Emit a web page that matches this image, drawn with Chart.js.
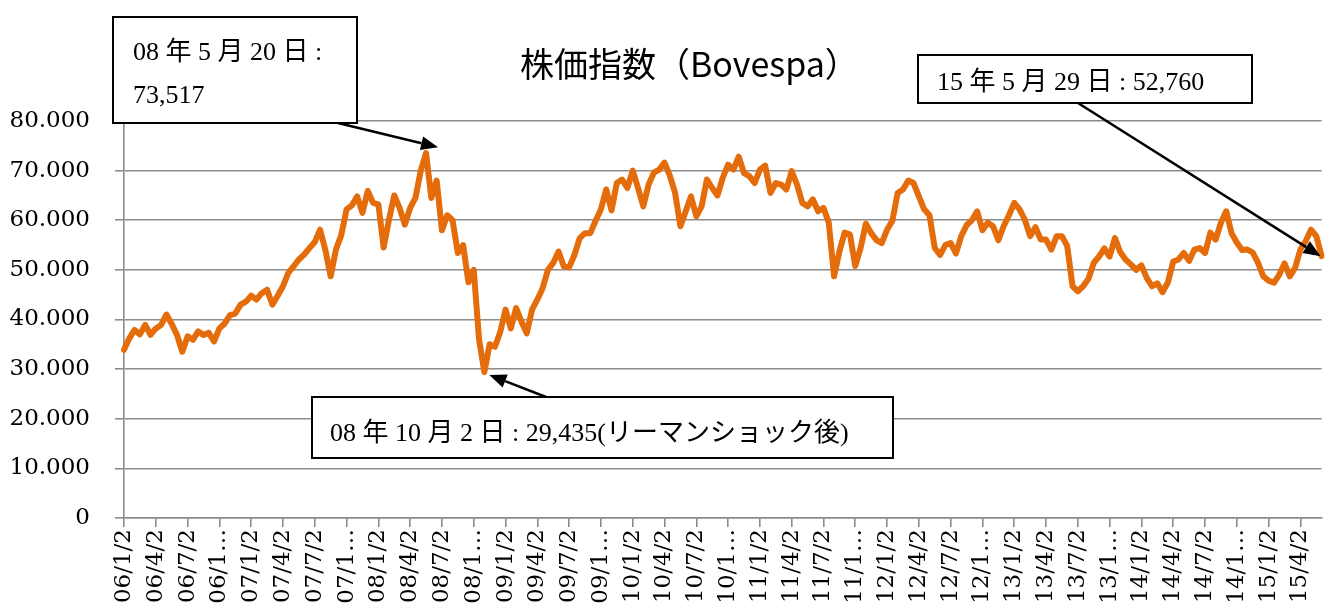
<!DOCTYPE html>
<html>
<head>
<meta charset="utf-8">
<title>株価指数（Bovespa）</title>
<script src="https://cdn.jsdelivr.net/npm/chart.js@4/dist/chart.umd.min.js"></script>
<style>
html, body { margin: 0; padding: 0; background: #fff; }
#wrap { width: 1330px; height: 613px; }
</style>
</head>
<body>
<div id="wrap"><canvas id="chart" width="1330" height="613"></canvas></div>
<script>
var chartTitle = '株価指数（Bovespa）';

// semi-monthly readings (2nd and 16th of each month), last point 15/5/29
var idx2006 = [33900, 36200, 37900, 37000, 38900, 36900, 38200, 38900, 41000, 39100, 36900, 33500,
	36600, 35900, 37600, 36900, 37300, 35600, 38200, 39200, 40900, 41200, 43000, 43600];
var idx2007 = [44800, 44000, 45300, 46000, 43000, 44800, 46700, 49400, 50700, 52100, 53100, 54400,
	55600, 58100, 54000, 48700, 54100, 57000, 62200, 63000, 64800, 61500, 65900, 63500];
var idx2008 = [63200, 54500, 60100, 65000, 62500, 59100, 62500, 64500, 70000, 73517, 64500, 68000,
	58000, 61000, 60000, 53400, 55000, 47500, 50000, 36000, 29435, 35000, 34500, 37500];
var idx2009 = [42000, 38200, 42300, 39600, 37200, 42000, 44000, 46300, 50000, 51400, 53700, 50700,
	50500, 53000, 56400, 57400, 57400, 59900, 62200, 66200, 62000, 67500, 68200, 66500];
var idx2010 = [70000, 66500, 62800, 67200, 69600, 70200, 71600, 69000, 65500, 58800, 61800, 64800,
	60800, 62800, 68200, 66500, 65000, 68600, 71200, 70200, 72800, 69500, 68900, 67500];
var idx2011 = [70200, 71000, 65500, 67500, 67200, 66200, 69900, 67200, 63500, 62800, 64200, 61800,
	62500, 59500, 48700, 53700, 57500, 57100, 50800, 54400, 59300, 57400, 56000, 55400];
var idx2012 = [58100, 59900, 65500, 66200, 68000, 67500, 64800, 62200, 61000, 54400, 53000, 55000,
	55400, 53300, 56800, 59000, 60000, 61800, 58000, 59500, 58800, 56000, 58800, 61000];
var idx2013 = [63500, 62200, 60100, 56800, 58600, 56100, 56100, 54100, 56800, 56800, 54800, 46700,
	45700, 46700, 48200, 51400, 52700, 54300, 52700, 56400, 53600, 52100, 51100, 50000];
var idx2014 = [50900, 48400, 46700, 47300, 45500, 47500, 51700, 52100, 53400, 51800, 54100, 54400,
	53400, 57500, 56100, 59500, 61800, 57400, 55500, 54000, 54100, 53500, 51400, 48700];
var idx2015 = [47800, 47400, 49000, 51300, 48700, 50400, 54100, 55800, 58100, 56800, 52760];

var tickLabels = [
	'06/1/2', '06/4/2', '06/7/2', '06/1…', '07/1/2', '07/4/2', '07/7/2', '07/1…',
	'08/1/2', '08/4/2', '08/7/2', '08/1…', '09/1/2', '09/4/2', '09/7/2', '09/1…',
	'10/1/2', '10/4/2', '10/7/2', '10/1…', '11/1/2', '11/4/2', '11/7/2', '11/1…',
	'12/1/2', '12/4/2', '12/7/2', '12/1…', '13/1/2', '13/4/2', '13/7/2', '13/1…',
	'14/1/2', '14/4/2', '14/7/2', '14/1…', '15/1/2', '15/4/2'
];

var bovespa = [].concat(idx2006, idx2007, idx2008, idx2009, idx2010,
	idx2011, idx2012, idx2013, idx2014, idx2015);

var dates = [];
var y, m;
for(y = 6; y <= 15; y++) {
	for(m = 1; m <= 12; m++) {
		if(y === 15 && m > 5) break;
		var yy = (y < 10 ? '0' : '') + y;
		dates.push(yy + '/' + m + '/2');
		dates.push(yy + '/' + m + '/16');
	}
}
dates[dates.length - 1] = '15/5/15';
dates.push('15/5/29');

var peakIdx = 57, lowIdx = 68, lastIdx = bovespa.length - 1;

var ORANGE = '#E46C0A';
var GRID = '#8c8c8c';
var SERIF = '"DejaVu Serif", serif';
var NOTE_FONT = '26px "Liberation Serif", "Noto Sans CJK JP", serif';

function drawArrow(ctx, x1, y1, x2, y2) {
	var a = Math.atan2(y2 - y1, x2 - x1), len = 17, w = 7;
	var bx = x2 - len * Math.cos(a), by = y2 - len * Math.sin(a);
	ctx.strokeStyle = '#000';
	ctx.fillStyle = '#000';
	ctx.lineWidth = 2.5;
	ctx.beginPath();
	ctx.moveTo(x1, y1);
	ctx.lineTo(bx, by);
	ctx.stroke();
	ctx.beginPath();
	ctx.moveTo(x2, y2);
	ctx.lineTo(bx + w * Math.sin(a), by - w * Math.cos(a));
	ctx.lineTo(bx - w * Math.sin(a), by + w * Math.cos(a));
	ctx.closePath();
	ctx.fill();
}

function drawBox(ctx, x, y, w, h, lines, tx, baselines) {
	ctx.fillStyle = '#fff';
	ctx.fillRect(x, y, w, h);
	ctx.strokeStyle = '#000';
	ctx.lineWidth = 2;
	ctx.strokeRect(x, y, w, h);
	ctx.fillStyle = '#000';
	ctx.font = NOTE_FONT;
	ctx.textAlign = 'left';
	ctx.textBaseline = 'alphabetic';
	for(var i = 0; i < lines.length; i++) {
		ctx.fillText(lines[i], tx, baselines[i]);
	}
}

var notes = {
	id: 'notes',
	afterDraw: function(chart) {
		var ctx = chart.ctx, xs = chart.scales.x, ys = chart.scales.y;
		ctx.save();

		ctx.fillStyle = '#000';
		ctx.font = '34px "Noto Sans CJK JP", sans-serif';
		ctx.textAlign = 'left';
		ctx.textBaseline = 'alphabetic';
		ctx.fillText(chartTitle, 520, 77);

		var px = xs.getPixelForValue(peakIdx), py = ys.getPixelForValue(bovespa[peakIdx]);
		drawArrow(ctx, 338, 123, px + 12, py - 6);
		drawBox(ctx, 113, 17, 244, 106, ['08 年 5 月 20 日 :', '73,517'], 133, [60, 103]);

		var lx = xs.getPixelForValue(lowIdx), ly = ys.getPixelForValue(bovespa[lowIdx]);
		drawArrow(ctx, 546, 397, lx + 5, ly + 3);
		drawBox(ctx, 312, 397, 581, 61, ['08 年 10 月 2 日 : 29,435(リーマンショック後)'], 330, [441]);

		var ex = xs.getPixelForValue(lastIdx), ey = ys.getPixelForValue(bovespa[lastIdx]);
		drawArrow(ctx, 1078, 103, ex - 1, ey);
		drawBox(ctx, 918, 55, 334, 48, ['15 年 5 月 29 日 : 52,760'], 937, [90]);

		ctx.restore();
	}
};

var canvas = document.getElementById('chart');
canvas._chart = new Chart(canvas, {
	type: 'line',
	data: {
		labels: dates,
		datasets: [{
			label: 'Bovespa',
			data: bovespa,
			borderColor: ORANGE,
			backgroundColor: ORANGE,
			borderWidth: 6,
			pointRadius: 0,
			tension: 0,
			fill: false,
			borderJoinStyle: 'round',
			borderCapStyle: 'round'
		}]
	},
	options: {
		responsive: false,
		animation: false,
		devicePixelRatio: 1,
		layout: { padding: { top: 121, right: 0, bottom: 0, left: 0 } },
		plugins: {
			legend: { display: false },
			tooltip: { enabled: false },
			title: { display: false }
		},
		scales: {
			x: {
				type: 'category',
				offset: false,
				grid: { display: true, drawOnChartArea: false, drawTicks: true, tickLength: 9, color: GRID, lineWidth: 1.6 },
				border: { display: true, color: GRID, width: 1.6 },
				ticks: {
					autoSkip: false,
					maxRotation: 90,
					minRotation: 90,
					padding: 2,
					color: '#000',
					font: { family: SERIF, size: 23 },
					callback: function(value) { return tickLabels[value / 6]; }
				},
				afterBuildTicks: function(axis) {
					axis.ticks = axis.ticks.filter(function(t) { return t.value % 6 === 0; });
				},
				afterFit: function(axis) { axis.height = 95; }
			},
			y: {
				min: 0,
				max: 80000,
				grid: { color: GRID, lineWidth: 1.6, drawTicks: true, tickLength: 9 },
				border: { display: true, color: GRID, width: 1.6 },
				ticks: {
					stepSize: 10000,
					padding: 25,
					color: '#000',
					font: { family: SERIF, size: 23 },
					callback: function(v) { return v === 0 ? '0' : (v / 1000) + '.000'; }
				},
				afterFit: function(axis) { axis.width = 124; }
			}
		}
	},
	plugins: [notes]
});
</script>
</body>
</html>
